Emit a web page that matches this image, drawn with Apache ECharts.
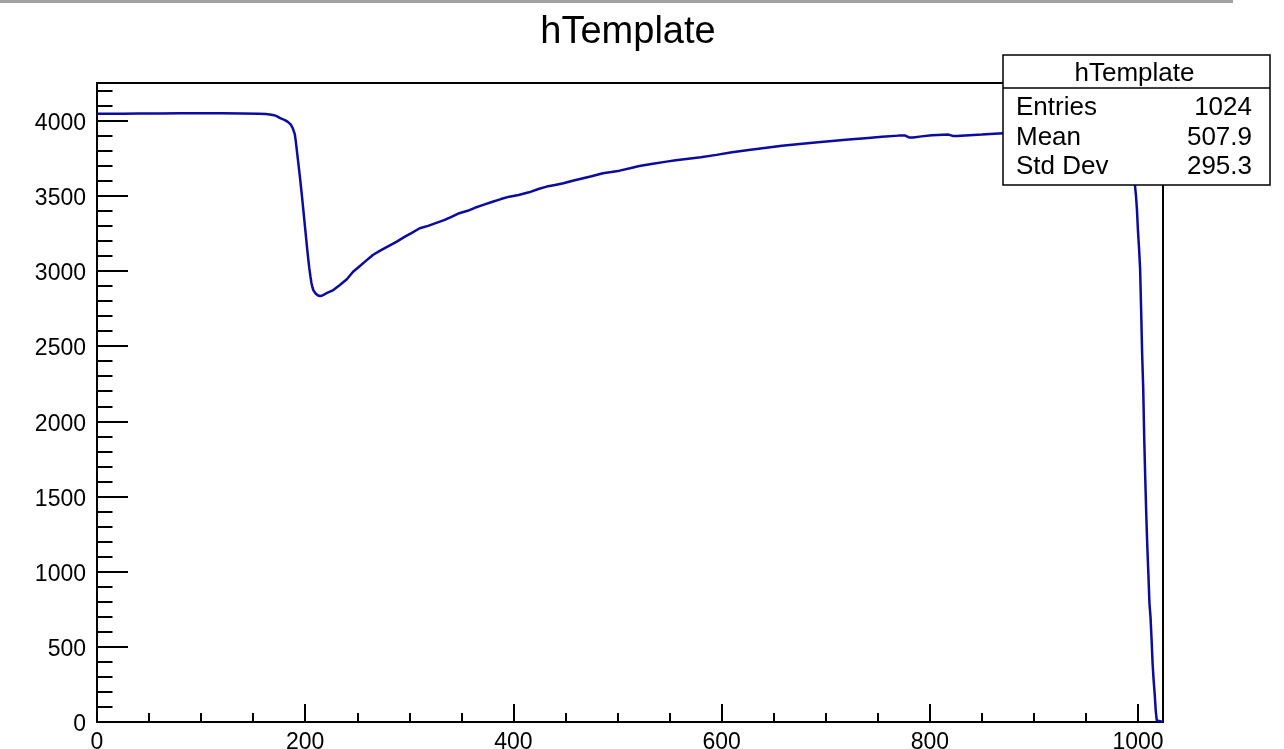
<!DOCTYPE html>
<html>
<head>
<meta charset="utf-8">
<script src="https://cdn.jsdelivr.net/npm/echarts@6/dist/echarts.min.js"></script>
<style>html,body{margin:0;padding:0;background:#fff;}#c{width:1284px;height:749px;}</style>
</head>
<body>
<div id="c"></div>
<script>
// ---- data ----
const binX = [0, 10, 25, 40, 60, 80, 100, 120, 140, 155, 162, 166, 170, 173, 176, 180, 183, 186, 188, 190, 191, 192, 193, 194, 195, 196, 197, 198, 199, 200, 201, 202, 203, 204, 205, 206, 207, 208, 210, 212, 214, 216, 218, 220,
  227, 233, 240, 246, 252, 258, 265, 272, 280, 288, 295, 302, 310, 318, 326, 334, 341, 348, 356, 363, 371, 380, 388, 396, 405, 415, 424, 432, 440, 448, 456, 464, 475, 486, 494, 502, 512, 521, 534, 547, 556, 566, 580, 595, 610, 626, 643, 658, 675, 690, 706, 722, 738, 754, 770, 776, 780, 784, 792, 802, 818, 822, 826, 850, 866, 880, 900, 920, 940, 960, 975, 985, 990, 993, 995, 996,
  997, 998, 999, 1000, 1001, 1002, 1003, 1004, 1005, 1006, 1007, 1008, 1009, 1010, 1011, 1012, 1013, 1014, 1015, 1016, 1017, 1018, 1019, 1024];
const binVal = [4045, 4046, 4046, 4047, 4047, 4048, 4048, 4048, 4047, 4046, 4044, 4041, 4036, 4028, 4016, 4005, 3993, 3975, 3950, 3910, 3860, 3800, 3740, 3680, 3620, 3555, 3490, 3420, 3350, 3280, 3210, 3140, 3075, 3015, 2965, 2920, 2890, 2870, 2850, 2838, 2833, 2835, 2842, 2850,
  2873, 2905, 2945, 2995, 3030, 3065, 3106, 3135, 3165, 3195, 3225, 3252, 3284, 3300, 3320, 3340, 3362, 3384, 3400, 3420, 3439, 3460, 3478, 3494, 3505, 3523, 3545, 3561, 3572, 3583, 3598, 3612, 3630, 3650, 3658, 3667, 3683, 3698, 3713, 3727, 3736, 3745, 3756, 3772, 3790, 3805, 3820, 3833, 3845, 3855, 3865, 3874, 3883, 3892, 3900, 3901, 3888, 3887, 3895, 3903, 3907, 3898, 3897, 3907, 3914, 3918, 3922, 3926, 3930, 3932, 3930, 3900, 3850, 3780, 3700, 3640,
  3572, 3505, 3406, 3261, 3151, 3017, 2740, 2440, 2219, 1875, 1609, 1364, 1154, 977, 788, 699, 555, 389, 278, 189, 78, 11, 0, 0];
const xTickLabels = [0, 200, 400, 600, 800, 1000];
const yTickLabels = [0, 500, 1000, 1500, 2000, 2500, 3000, 3500, 4000];
const statsTitle = 'hTemplate';
const statsNames = ['Entries', 'Mean', 'Std Dev'];
const statsValues = ['1024', '507.9', '295.3'];
const chartTitle = 'hTemplate';

// ---- chart ----
const FONT = '"Liberation Sans", Arial, Helvetica, sans-serif';
const chart = echarts.init(document.getElementById('c'), null, {renderer: 'canvas'});
const seriesData = binX.map((x, i) => [x, binVal[i]]);
const black = '#000';

const gridL = 97, gridT = 83, gridR = 1284 - 1163, gridB = 749 - 722;

const statsLeft = 1003, statsTop = 55, statsW = 267, statsH = 130, headH = 33;
const statsGraphics = [
  {type: 'rect', z: 100, shape: {x: statsLeft, y: statsTop, width: statsW, height: statsH},
   style: {fill: '#fff', stroke: black, lineWidth: 1.5}},
  {type: 'line', z: 101, shape: {x1: statsLeft, y1: statsTop + headH, x2: statsLeft + statsW, y2: statsTop + headH},
   style: {stroke: black, lineWidth: 1.5}},
  {type: 'text', z: 101, style: {text: statsTitle, x: statsLeft + statsW / 2 - 2, y: statsTop + headH / 2 + 2,
   fontSize: 26, fontFamily: FONT, fill: black, textAlign: 'center', textVerticalAlign: 'middle'}}
];
statsNames.forEach((n, i) => {
  const cy = [108, 137.5, 167][i];
  statsGraphics.push({type: 'text', z: 101, style: {text: n, x: statsLeft + 13, y: cy, fontSize: 26, fontFamily: FONT,
    fill: black, textAlign: 'left', textVerticalAlign: 'middle'}});
  statsGraphics.push({type: 'text', z: 101, style: {text: statsValues[i], x: statsLeft + statsW - 18, y: cy, fontSize: 26, fontFamily: FONT,
    fill: black, textAlign: 'right', textVerticalAlign: 'middle'}});
});

const option = {
  animation: false,
  backgroundColor: '#fff',
  grid: {left: gridL, top: gridT, right: gridR, bottom: gridB, show: true, borderColor: black, borderWidth: 2, backgroundColor: '#fff',
         containLabel: false, outerBoundsMode: 'none'},
  xAxis: [
    {type: 'value', min: 0, max: 1024, interval: 200, position: 'bottom',
     axisLine: {show: true, lineStyle: {color: black, width: 2}},
     axisTick: {show: true, inside: true, length: 18, lineStyle: {color: black, width: 2}},
     axisLabel: {show: true, margin: 9, fontSize: 23, fontFamily: FONT, color: black,
       formatter: v => xTickLabels.includes(v) ? String(v) : ''},
     splitLine: {show: false}},
    {type: 'value', min: 0, max: 1024, interval: 50, position: 'bottom',
     axisLine: {show: false},
     axisTick: {show: true, inside: true, length: 9, lineStyle: {color: black, width: 2}},
     axisLabel: {show: false}, splitLine: {show: false}}
  ],
  yAxis: [
    {type: 'value', min: 0, max: 4250, interval: 500, position: 'left',
     axisLine: {show: true, lineStyle: {color: black, width: 2}},
     axisTick: {show: true, inside: true, length: 31, lineStyle: {color: black, width: 2}},
     axisLabel: {show: true, margin: 11, color: black,
       formatter: v => yTickLabels.includes(v) ? '{a|' + v + '}' : '',
       rich: {a: {fontSize: 23, fontFamily: FONT, color: black, padding: [6, 0, 0, 0]}}},
     splitLine: {show: false}},
    {type: 'value', min: 0, max: 4250, interval: 100, position: 'left',
     axisLine: {show: false},
     axisTick: {show: true, inside: true, length: 15.5, lineStyle: {color: black, width: 2}},
     axisLabel: {show: false}, splitLine: {show: false}}
  ],
  series: [{
    type: 'line', xAxisIndex: 0, yAxisIndex: 0, data: seriesData,
    showSymbol: false, symbol: 'none', smooth: false,
    lineStyle: {color: '#0b0b9e', width: 2.5}, z: 5
  }],
  graphic: [
    {type: 'rect', z: 100, shape: {x: 0, y: 0, width: 1233, height: 3}, style: {fill: '#a3a3a3'}},
    {type: 'text', z: 100, style: {text: chartTitle, x: 628, y: 33, fontSize: 38, fontFamily: FONT, fill: black,
      textAlign: 'center', textVerticalAlign: 'middle'}}
  ].concat(statsGraphics)
};
chart.setOption(option);
</script>
</body>
</html>
